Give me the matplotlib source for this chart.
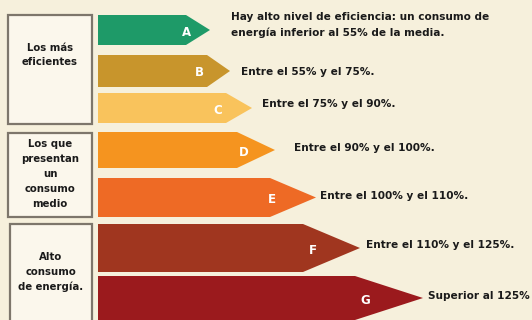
import matplotlib
matplotlib.use("Agg")
import matplotlib.pyplot as plt
from matplotlib.patches import Polygon, Rectangle

# ---- data ----
letters = ["A", "B", "C", "D", "E", "F", "G"]
bar_ends = [186, 207, 226, 237, 270, 303, 355]     # end of straight body
descriptions = [
    "Hay alto nivel de eficiencia: un consumo de\nenergía inferior al 55% de la media.",
    "Entre el 55% y el 75%.",
    "Entre el 75% y el 90%.",
    "Entre el 90% y el 100%.",
    "Entre el 100% y el 110%.",
    "Entre el 110% y el 125%.",
    "Superior al 125%",
]
groups = ["Los más\neficientes",
          "Los que\npresentan\nun\nconsumo\nmedio",
          "Alto\nconsumo\nde energía."]

# ---- style / layout ----
colors = ["#1e9a68", "#c8952c", "#f9c35c", "#f5941f", "#ee6a25", "#a0361f", "#9b1a1d"]
bar_top = [15, 55, 93, 132, 178, 224, 276]
bar_bot = [45, 87, 123, 168, 217, 272, 320]
tip_depth = [24, 23, 26, 38, 46, 57, 68]
letter_x = [186, 199, 218, 244, 272, 313, 365]
text_x = [231, 241, 262, 294, 320, 366, 428]
text_y = [25, 72, 104, 148, 196, 245, 296]
group_boxes = [(8, 15, 92, 124), (8, 133, 92, 217), (10, 224, 92, 322)]
group_text_y = [55, 174, 272]

fig = plt.figure(figsize=(5.32, 3.2), dpi=100)
fig.patch.set_facecolor("#f6f0dc")
ax = fig.add_axes([0, 0, 1, 1])
ax.set_xlim(0, 532)
ax.set_ylim(320, 0)
ax.axis("off")
ax.set_facecolor("#f6f0dc")

font = "DejaVu Sans"
left = 98
for i, L in enumerate(letters):
    t, b, e = bar_top[i], bar_bot[i], bar_ends[i]
    mid = (t + b) / 2
    poly = Polygon([(left, t), (e, t), (e + tip_depth[i], mid), (e, b), (left, b)],
                   closed=True, facecolor=colors[i], edgecolor="none")
    ax.add_patch(poly)
    ax.text(letter_x[i], mid + 2, L, color="white", fontsize=8.5, fontweight="bold",
            ha="center", va="center", family=font)
    ax.text(text_x[i], text_y[i], descriptions[i], color="#1a1a1a", fontsize=7.6,
            fontweight="bold", ha="left", va="center", family=font, linespacing=1.65)

for (x0, y0, x1, y1), g, ty in zip(group_boxes, groups, group_text_y):
    ax.add_patch(Rectangle((x0, y0), x1 - x0, y1 - y0, facecolor="#fbf7ec",
                           edgecolor="#7d766b", linewidth=1.6))
    ax.text((x0 + x1) / 2, ty, g, color="#1a1a1a",
            fontsize=7.3, fontweight="bold", ha="center", va="center", family=font,
            linespacing=1.6)

fig.savefig("out.png", dpi=100, facecolor=fig.get_facecolor())
